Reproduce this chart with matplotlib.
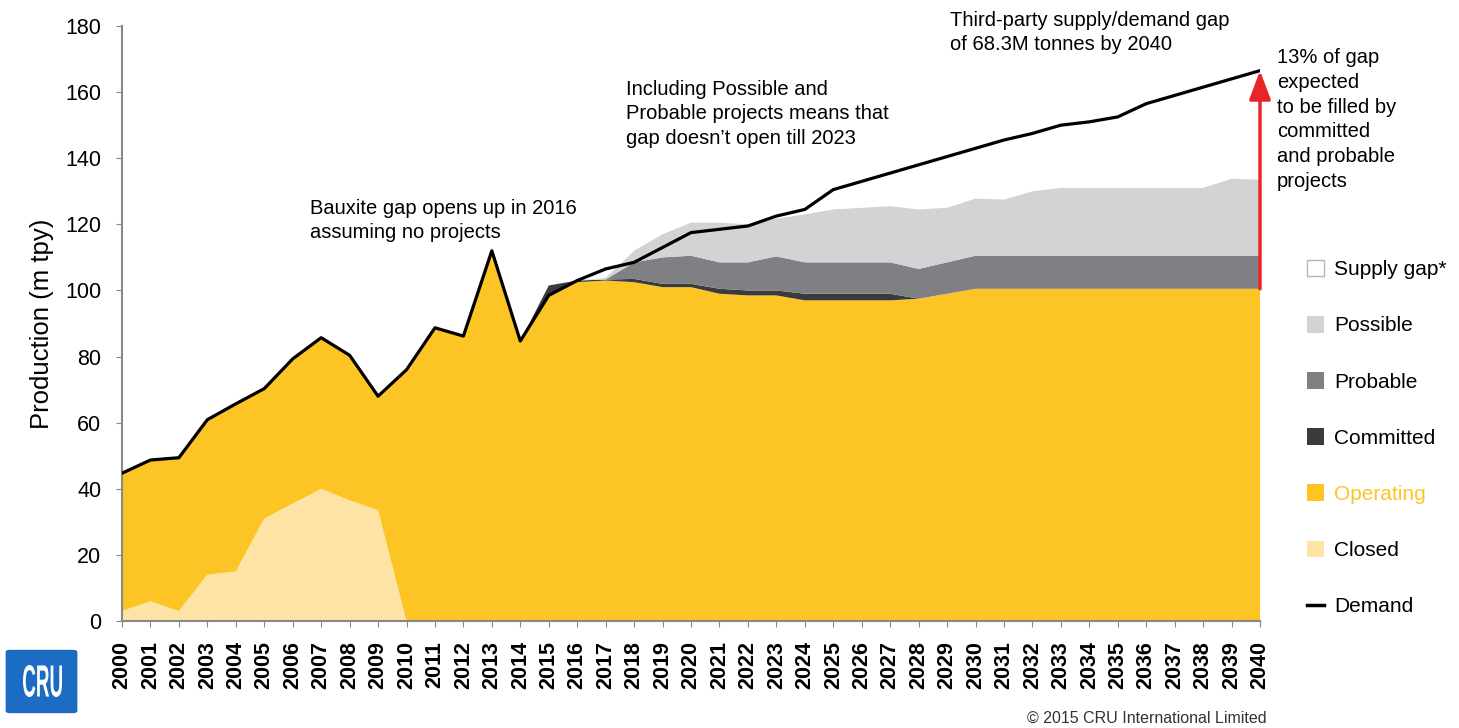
import matplotlib.pyplot as plt
from matplotlib.patches import Patch, FancyBboxPatch, PathPatch
from matplotlib.lines import Line2D
from matplotlib.textpath import TextPath
from matplotlib.font_manager import FontProperties
from matplotlib.transforms import Affine2D, IdentityTransform

plt.rcParams['font.family'] = ['Liberation Sans', 'DejaVu Sans']

years = list(range(2000, 2041))

# demand line (m tpy)
demand = [44.7, 48.7, 49.4, 60.9, 65.7, 70.3, 79.3, 85.7, 80.4, 68.0,
          76.0, 88.7, 86.2, 112.0, 84.7, 98.5, 103.0, 106.5, 108.5, 113.0,
          117.5, 118.5, 119.5, 122.5, 124.5, 130.5, 133.0, 135.5, 138.0, 140.5,
          143.0, 145.5, 147.5, 150.0, 151.0, 152.5, 156.5, 159.0, 161.5, 164.0,
          166.5]

# stacked layers (thickness of each band)
closed = [3.0, 6.0, 3.0, 14.0, 15.0, 31.0, 35.5, 40.0, 36.5, 33.5] + [0.0] * 31
operating = [41.7, 42.7, 46.4, 46.9, 50.7, 39.3, 43.8, 45.7, 43.9, 34.5,
             76.0, 88.7, 86.2, 112.0, 84.7, 98.5, 102.5, 103.0, 102.5, 101.0,
             101.0, 99.0, 98.5, 98.5, 97.0, 97.0, 97.0, 97.0, 97.5, 99.0,
             100.5, 100.5, 100.5, 100.5, 100.5, 100.5, 100.5, 100.5, 100.5, 100.5,
             100.5]
committed = [0.0] * 15 + [3.0, 0.5, 0.3, 1.0, 1.0, 1.0, 1.5, 1.5, 1.5, 2.0,
                          2.0, 2.0, 2.0, 0.0] + [0.0] * 12
probable = [0.0] * 18 + [5.0, 8.0, 8.5, 8.0, 8.5, 10.3, 9.5, 9.5, 9.5, 9.5,
                         9.0, 9.5] + [10.0] * 11
possible = [0.0] * 17 + [0.5, 3.5, 7.0, 10.0, 12.0, 11.5, 11.4, 14.5, 16.0,
                         16.5, 17.0, 18.0, 16.5, 17.3, 17.0, 19.5, 20.5, 20.5,
                         20.5, 20.5, 20.5, 20.5, 23.3, 23.0]

colors = ["#fde4a4", "#fdc426", "#3b3b3d", "#7f8084", "#d2d3d5"]

fig = plt.figure(figsize=(14.59, 7.28), dpi=100)
ax = fig.add_axes([122 / 1459, 107 / 728, 1138 / 1459, 595 / 728])

ax.stackplot(years, closed, operating, committed, probable, possible,
             colors=colors, linewidth=0)
ax.plot(years, demand, color="black", lw=2.3, zorder=5)

ax.set_xlim(2000, 2040)
ax.set_ylim(0, 180)
ax.set_xticks(years)
ax.set_xticklabels([str(y) for y in years], rotation=90, fontsize=15.5,
                   fontweight="bold")
ax.set_yticks(range(0, 181, 20))
ax.tick_params(axis="y", labelsize=15.5, length=4.5, color="#888888", pad=10.5)
ax.tick_params(axis="x", length=4.5, color="#888888", pad=10)
for s in ["top", "right"]:
    ax.spines[s].set_visible(False)
for s in ["left", "bottom"]:
    ax.spines[s].set_color("#888888")
    ax.spines[s].set_linewidth(1.5)
ax.set_ylabel("Production (m tpy)", fontsize=18.5, labelpad=8)

# red arrow: share of gap
top_2040 = operating[-1] + committed[-1]
ax.annotate("", xy=(2040, demand[-1]), xytext=(2040, top_2040),
            arrowprops=dict(arrowstyle="-|>,head_width=0.3,head_length=0.8",
                            color="#e8262a", lw=2.5,
                            mutation_scale=22, shrinkA=0, shrinkB=0),
            annotation_clip=False, zorder=6)

txt = dict(fontsize=14.5, va="top", ha="left", linespacing=1.38, clip_on=False)
ax.text(2006.6, 127.8, "Bauxite gap opens up in 2016\nassuming no projects", **txt)
ax.text(2017.7, 163.8, "Including Possible and\nProbable projects means that\n"
        "gap doesn\u2019t open till 2023", **txt)
ax.text(2029.1, 184.6, "Third-party supply/demand gap\nof 68.3M tonnes by 2040", **txt)
ax.text(2040.6, 173.3, "13% of gap\nexpected\nto be filled by\ncommitted\n"
        "and probable\nprojects", **txt)

handles = [Patch(facecolor="white", edgecolor="#b5b5b5", lw=1),
           Patch(facecolor=colors[4]),
           Patch(facecolor=colors[3]),
           Patch(facecolor=colors[2]),
           Patch(facecolor=colors[1]),
           Patch(facecolor=colors[0]),
           Line2D([0], [0], color="black", lw=2.5)]
leg_labels = ["Supply gap*", "Possible", "Probable", "Committed",
              "Operating", "Closed", "Demand"]
leg = fig.legend(handles, leg_labels, loc="upper left",
                 bbox_to_anchor=(1288 / 1459, 1 - 241 / 728),
                 frameon=False, fontsize=15, handlelength=0.85,
                 handleheight=0.85, handletextpad=0.45, labelspacing=1.76)
leg.get_texts()[4].set_color("#fdc426")

# CRU logo and copyright
logo = FancyBboxPatch((10 / 1459, 17 / 728), 63 / 1459, 59 / 728,
                      boxstyle="round,pad=0.003", transform=fig.transFigure,
                      facecolor="#1c6cc4", edgecolor="none")
fig.patches.append(logo)
tp = TextPath((0, 0), "CRU", size=1, prop=FontProperties(family="Liberation Sans",
                                                        weight="bold"))
ext = tp.get_extents()
sx = 39 / ext.width
sy = 32 / ext.height
logo_txt = PathPatch(tp, facecolor="white", edgecolor="none",
                     transform=Affine2D().translate(-ext.x0, -ext.y0)
                     .scale(sx, sy).translate(23, 31) + IdentityTransform())
fig.patches.append(logo_txt)
fig.text(1267 / 1459, 10 / 728, "\u00a9 2015 CRU International Limited",
         fontsize=11.5, ha="right", va="center", color="#333333")

fig.savefig("out.png", dpi=100)
